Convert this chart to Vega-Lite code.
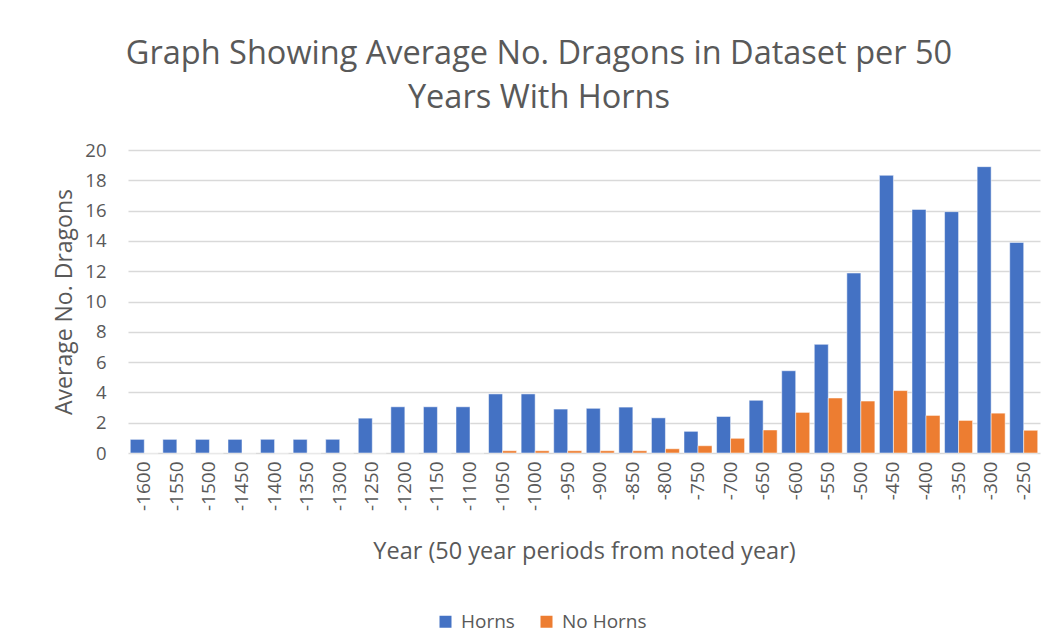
{
  "$schema": "https://vega.github.io/schema/vega-lite/v6.json",
  "width": 912,
  "height": 303,
  "autosize": {"type": "none"},
  "padding": {"left": 128, "top": 150, "right": 16, "bottom": 182},
  "background": "#ffffff",
  "title": {
    "text": ["Graph Showing Average No. Dragons in Dataset per 50", "Years With Horns"],
    "font": "Open Sans",
    "fontSize": 32.5,
    "fontWeight": "normal",
    "color": "#595959",
    "anchor": "middle",
    "frame": "group",
    "dx": -45,
    "offset": 27,
    "lineHeight": 44
  },
  "data": {
    "values": [
      {"Year": "-1600", "Type": "Horns", "Value": 0.9},
      {"Year": "-1600", "Type": "No Horns", "Value": 0},
      {"Year": "-1550", "Type": "Horns", "Value": 0.9},
      {"Year": "-1550", "Type": "No Horns", "Value": 0},
      {"Year": "-1500", "Type": "Horns", "Value": 0.9},
      {"Year": "-1500", "Type": "No Horns", "Value": 0},
      {"Year": "-1450", "Type": "Horns", "Value": 0.9},
      {"Year": "-1450", "Type": "No Horns", "Value": 0},
      {"Year": "-1400", "Type": "Horns", "Value": 0.9},
      {"Year": "-1400", "Type": "No Horns", "Value": 0},
      {"Year": "-1350", "Type": "Horns", "Value": 0.9},
      {"Year": "-1350", "Type": "No Horns", "Value": 0},
      {"Year": "-1300", "Type": "Horns", "Value": 0.9},
      {"Year": "-1300", "Type": "No Horns", "Value": 0},
      {"Year": "-1250", "Type": "Horns", "Value": 2.3},
      {"Year": "-1250", "Type": "No Horns", "Value": 0},
      {"Year": "-1200", "Type": "Horns", "Value": 3.05},
      {"Year": "-1200", "Type": "No Horns", "Value": 0},
      {"Year": "-1150", "Type": "Horns", "Value": 3.05},
      {"Year": "-1150", "Type": "No Horns", "Value": 0},
      {"Year": "-1100", "Type": "Horns", "Value": 3.05},
      {"Year": "-1100", "Type": "No Horns", "Value": 0},
      {"Year": "-1050", "Type": "Horns", "Value": 3.9},
      {"Year": "-1050", "Type": "No Horns", "Value": 0.15},
      {"Year": "-1000", "Type": "Horns", "Value": 3.9},
      {"Year": "-1000", "Type": "No Horns", "Value": 0.15},
      {"Year": "-950", "Type": "Horns", "Value": 2.9},
      {"Year": "-950", "Type": "No Horns", "Value": 0.15},
      {"Year": "-900", "Type": "Horns", "Value": 2.95},
      {"Year": "-900", "Type": "No Horns", "Value": 0.15},
      {"Year": "-850", "Type": "Horns", "Value": 3.03},
      {"Year": "-850", "Type": "No Horns", "Value": 0.15},
      {"Year": "-800", "Type": "Horns", "Value": 2.32},
      {"Year": "-800", "Type": "No Horns", "Value": 0.28},
      {"Year": "-750", "Type": "Horns", "Value": 1.43},
      {"Year": "-750", "Type": "No Horns", "Value": 0.48},
      {"Year": "-700", "Type": "Horns", "Value": 2.41},
      {"Year": "-700", "Type": "No Horns", "Value": 0.97},
      {"Year": "-650", "Type": "Horns", "Value": 3.48},
      {"Year": "-650", "Type": "No Horns", "Value": 1.52},
      {"Year": "-600", "Type": "Horns", "Value": 5.43},
      {"Year": "-600", "Type": "No Horns", "Value": 2.68},
      {"Year": "-550", "Type": "Horns", "Value": 7.17},
      {"Year": "-550", "Type": "No Horns", "Value": 3.63},
      {"Year": "-500", "Type": "Horns", "Value": 11.88},
      {"Year": "-500", "Type": "No Horns", "Value": 3.43},
      {"Year": "-450", "Type": "Horns", "Value": 18.33},
      {"Year": "-450", "Type": "No Horns", "Value": 4.12},
      {"Year": "-400", "Type": "Horns", "Value": 16.08},
      {"Year": "-400", "Type": "No Horns", "Value": 2.48},
      {"Year": "-350", "Type": "Horns", "Value": 15.93},
      {"Year": "-350", "Type": "No Horns", "Value": 2.15},
      {"Year": "-300", "Type": "Horns", "Value": 18.9},
      {"Year": "-300", "Type": "No Horns", "Value": 2.63},
      {"Year": "-250", "Type": "Horns", "Value": 13.9},
      {"Year": "-250", "Type": "No Horns", "Value": 1.5}
    ]
  },
  "mark": {"type": "bar", "stroke": "#ffffff", "strokeWidth": 1, "strokeOpacity": 0.5},
  "encoding": {
    "x": {
      "field": "Year",
      "type": "nominal",
      "sort": null,
      "scale": {"paddingInner": 0.14, "paddingOuter": 0.07},
      "axis": {
        "title": "Year (50 year periods from noted year)",
        "titleFont": "Open Sans",
        "titleFontSize": 23.5,
        "titleFontWeight": "normal",
        "titleColor": "#595959",
        "titlePadding": 29,
        "labelFont": "Open Sans",
        "labelFontSize": 19,
        "labelColor": "#595959",
        "labelAngle": 270,
        "labelPadding": 8,
        "domain": false,
        "ticks": false,
        "grid": false
      }
    },
    "xOffset": {"field": "Type", "type": "nominal", "scale": {"padding": 0}},
    "y": {
      "field": "Value",
      "type": "quantitative",
      "scale": {"domain": [0, 20], "nice": false},
      "axis": {
        "title": "Average No. Dragons",
        "titleFont": "Open Sans",
        "titleFontSize": 23,
        "titleFontWeight": "normal",
        "titleColor": "#595959",
        "titlePadding": 8,
        "labelFont": "Open Sans",
        "labelFontSize": 18.5,
        "labelColor": "#595959",
        "labelPadding": 22,
        "values": [0, 2, 4, 6, 8, 10, 12, 14, 16, 18, 20],
        "domain": false,
        "ticks": false,
        "grid": true,
        "gridColor": "#d9d9d9",
        "gridWidth": 1.5
      }
    },
    "color": {
      "field": "Type",
      "type": "nominal",
      "scale": {"domain": ["Horns", "No Horns"], "range": ["#4472C4", "#ED7D31"]},
      "legend": {
        "title": null,
        "orient": "none",
        "direction": "horizontal",
        "legendX": 308,
        "legendY": 462,
        "symbolType": "square",
        "symbolSize": 144,
        "symbolStrokeWidth": 0,
        "labelFont": "Open Sans",
        "labelFontSize": 19,
        "labelColor": "#595959",
        "labelOffset": 6,
        "columnPadding": 22,
        "padding": 0
      }
    }
  },
  "config": {"view": {"stroke": null}}
}
